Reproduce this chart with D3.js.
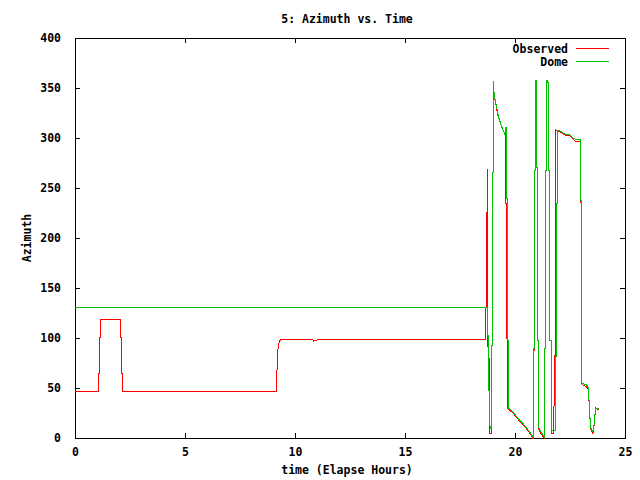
<!DOCTYPE html>
<meta charset="utf-8">
<style>
    body { margin: 0; background: #fff; }
    svg { display: block; }
    text { font-family: "DejaVu Sans Mono", monospace; font-size: 11.5px; font-weight: bold; fill: #000; }
</style>
<body>
<script src="https://cdn.jsdelivr.net/npm/d3@7"></script>
<script>

    var title = "5: Azimuth vs. Time";
    var xLabel = "time (Elapse Hours)";
    var yLabel = "Azimuth";
    var xTicks = [0, 5, 10, 15, 20, 25];
    var yTicks = [0, 50, 100, 150, 200, 250, 300, 350, 400];
    var seriesNames = ["Observed", "Dome"];
    var seriesColors = ["#ff0000", "#00c000"];

    // [hours, azimuth]
    var observed = [
        [0, 47], [1.06, 47], [1.06, 65], [1.10, 65], [1.10, 101], [1.14, 101], [1.14, 119],
        [2.06, 119], [2.06, 101], [2.10, 101], [2.10, 65], [2.15, 65], [2.15, 47],
        [9.15, 47], [9.17, 58], [9.20, 82], [9.25, 94], [9.30, 97], [9.40, 99],
        [10.80, 99], [10.85, 97], [10.90, 98], [11.00, 98], [11.05, 99],
        [18.65, 99], [18.65, 131], [18.70, 131], [18.70, 226], [18.73, 226], [18.73, 269],
        [18.745, 103], [18.80, 80], [18.82, 80], [18.82, 16], [18.86, 16], [18.86, 5], [18.92, 5],
        [18.92, 93], [18.97, 93], [18.97, 266], [19.01, 266], [19.01, 355], [19.03, 348],
        [19.09, 338], [19.24, 321], [19.39, 311], [19.54, 304], [19.56, 304], [19.56, 235],
        [19.60, 235], [19.60, 100], [19.64, 100], [19.64, 30], [19.74, 28], [19.92, 25],
        [20.08, 20], [20.30, 15], [20.53, 9], [20.76, 2], [20.80, 0], [20.83, 0], [20.83, 88],
        [20.88, 88], [20.88, 268], [20.92, 268], [20.92, 355], [20.97, 355], [20.97, 271],
        [21.02, 271], [21.02, 98], [21.06, 98], [21.06, 9], [21.31, 0], [21.33, 0], [21.33, 90],
        [21.38, 90], [21.38, 268], [21.42, 268], [21.42, 358], [21.49, 356], [21.54, 351],
        [21.54, 268], [21.59, 268], [21.59, 98], [21.65, 98], [21.65, 5], [21.77, 5],
        [21.78, 83], [21.82, 83], [21.82, 235], [21.84, 235], [21.84, 308], [21.97, 307],
        [22.12, 305], [22.27, 303], [22.50, 302], [22.65, 299], [22.73, 297], [22.96, 297],
        [22.96, 236], [23.00, 236], [23.00, 115], [23.03, 115], [23.03, 54], [23.26, 51],
        [23.33, 49], [23.36, 39], [23.41, 19], [23.44, 9], [23.54, 4], [23.59, 12],
        [23.64, 24], [23.67, 30], [23.83, 28]
    ];

    var dome = [
        [0, 131], [18.74, 131], [18.74, 103], [18.79, 103], [18.79, 48], [18.83, 48],
        [18.83, 15], [18.88, 10], [18.92, 10], [18.92, 93], [18.97, 93], [18.97, 266],
        [19.01, 266], [19.01, 357], [19.03, 350], [19.05, 345], [19.10, 338], [19.25, 321],
        [19.40, 311], [19.55, 303], [19.57, 311], [19.61, 311], [19.61, 240], [19.66, 240],
        [19.66, 98], [19.70, 98], [19.70, 30], [19.75, 29], [19.92, 26], [20.08, 21],
        [20.30, 16], [20.53, 10], [20.76, 3], [20.81, 1], [20.83, 1], [20.83, 90], [20.88, 90],
        [20.88, 268], [20.92, 268], [20.92, 358], [20.97, 358], [20.97, 271], [21.02, 271],
        [21.02, 98], [21.06, 98], [21.06, 11], [21.32, 1], [21.33, 1], [21.33, 90], [21.38, 90],
        [21.38, 268], [21.42, 268], [21.42, 358], [21.49, 357], [21.54, 353], [21.54, 268],
        [21.59, 268], [21.59, 98], [21.65, 98], [21.65, 8], [21.85, 8], [21.86, 82], [21.90, 82],
        [21.90, 235], [21.92, 235], [21.92, 308], [21.97, 308], [22.12, 306], [22.27, 304],
        [22.50, 303], [22.65, 300], [22.73, 299], [22.96, 299], [22.96, 238], [23.00, 238],
        [23.00, 116], [23.03, 116], [23.03, 55], [23.26, 53], [23.33, 51], [23.36, 40],
        [23.41, 20], [23.44, 10], [23.54, 6], [23.59, 13], [23.64, 25], [23.67, 30], [23.83, 30]
    ];

    var width = 640, height = 480;
    var plot = {left: 75, right: 625, top: 38, bottom: 438};

    var svg = d3.select("body").append("svg")
        .attr("width", width)
        .attr("height", height);

    var x = d3.scaleLinear().domain([0, 25]).range([plot.left, plot.right]);
    var y = d3.scaleLinear().domain([0, 400]).range([plot.bottom, plot.top]);

    var tickLen = 5;
    var axes = svg.append("g").attr("shape-rendering", "crispEdges");

    // bottom / top axes, ticks pointing inward
    axes.append("g")
        .attr("transform", "translate(0," + plot.bottom + ")")
        .call(d3.axisBottom(x).tickValues(xTicks).tickSizeInner(-tickLen).tickSizeOuter(0).tickPadding(10))
        .call(function(g) { g.select(".domain").remove(); });
    axes.append("g")
        .attr("transform", "translate(0," + plot.top + ")")
        .call(d3.axisTop(x).tickValues(xTicks).tickSizeInner(-tickLen).tickSizeOuter(0).tickFormat(""))
        .call(function(g) { g.select(".domain").remove(); });
    axes.append("g")
        .attr("transform", "translate(" + plot.left + ",0)")
        .call(d3.axisLeft(y).tickValues(yTicks).tickSizeInner(-tickLen).tickSizeOuter(0).tickPadding(14))
        .call(function(g) { g.select(".domain").remove(); });
    axes.append("g")
        .attr("transform", "translate(" + plot.right + ",0)")
        .call(d3.axisRight(y).tickValues(yTicks).tickSizeInner(-tickLen).tickSizeOuter(0).tickFormat(""))
        .call(function(g) { g.select(".domain").remove(); });

    axes.selectAll(".tick line").attr("stroke", "#000");
    axes.selectAll(".tick text")
        .attr("font-family", null)
        .attr("font-size", null)
        .style("fill", "#000");

    // frame
    axes.append("rect")
        .attr("x", plot.left)
        .attr("y", plot.top)
        .attr("width", plot.right - plot.left)
        .attr("height", plot.bottom - plot.top)
        .attr("fill", "none")
        .attr("stroke", "#000");

    var line = d3.line()
        .x(function(d) { return x(d[0]); })
        .y(function(d) { return y(d[1]); });

    var lines = svg.append("g").attr("shape-rendering", "crispEdges");
    [observed, dome].forEach(function(data, i) {
        lines.append("path")
            .datum(data)
            .attr("d", line)
            .attr("fill", "none")
            .attr("stroke", seriesColors[i])
            .attr("stroke-width", 1);
    });

    // legend
    var legend = svg.append("g");
    seriesNames.forEach(function(name, i) {
        var ly = 48.5 + i * 13;
        legend.append("text")
            .attr("x", 568)
            .attr("y", ly)
            .attr("dy", "0.35em")
            .attr("text-anchor", "end")
            .text(name);
        legend.append("line")
            .attr("x1", 576).attr("x2", 609)
            .attr("y1", ly).attr("y2", ly)
            .attr("stroke", seriesColors[i])
            .attr("stroke-width", 1);
    });

    svg.append("text")
        .attr("x", 347)
        .attr("y", 19)
        .attr("dy", "0.35em")
        .attr("text-anchor", "middle")
        .text(title);

    svg.append("text")
        .attr("x", 347)
        .attr("y", 470)
        .attr("dy", "0.35em")
        .attr("text-anchor", "middle")
        .text(xLabel);

    svg.append("text")
        .attr("transform", "translate(27,238) rotate(-90)")
        .attr("dy", "0.35em")
        .attr("text-anchor", "middle")
        .text(yLabel);

</script>
</body>
